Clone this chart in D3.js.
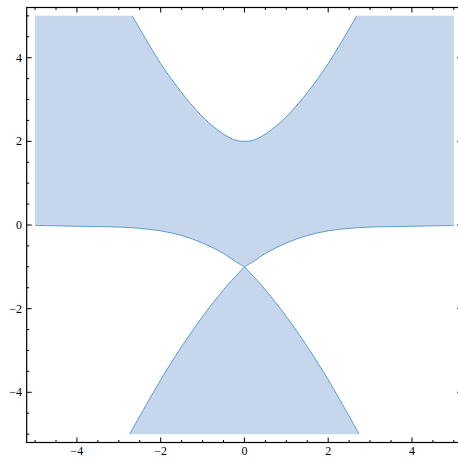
<!DOCTYPE html>
<html>
<head>
<meta charset="utf-8">
<script src="https://cdn.jsdelivr.net/npm/d3@7"></script>
<style>
  body { margin: 0; background: #fff; }
  svg { display: block; }
</style>
</head>
<body>
<div id="chart"></div>
<script>
// boundary curves (data coords)
const upperX = [-2.68, -2.0, -1.52, -1.05, -0.65, -0.25, 0, 0.25, 0.65, 1.05, 1.52, 2.0, 2.68];
const upperY = [5, 3.86, 3.19, 2.64, 2.28, 2.04, 2.0, 2.04, 2.28, 2.64, 3.19, 3.86, 5];

// left wing, from the left edge in to the crossing
const leftWingX = [-5, -4, -3, -2.5, -2, -1.5, -1, -0.5, -0.25, 0];
const leftWingY = [-0.01, -0.03, -0.05, -0.08, -0.14, -0.25, -0.43, -0.68, -0.85, -1.0];
// right wing, from the crossing out to the right edge
const rightWingX = [0, 0.25, 0.5, 1, 1.5, 2, 2.5, 3, 4, 5];
const rightWingY = [-1.0, -0.85, -0.68, -0.43, -0.25, -0.14, -0.08, -0.05, -0.03, -0.01];

// lower arms, from the crossing down to y = -5
const leftArmX = [0, -0.44, -1.06, -1.86, -2.74];
const leftArmY = [-1.0, -1.48, -2.27, -3.47, -5];
const rightArmX = [0, 0.44, 1.06, 1.86, 2.74];
const rightArmY = [-1.0, -1.48, -2.27, -3.47, -5];

const plotMin = -5, plotMax = 5;
const majorTicks = [-4, -2, 0, 2, 4];
const minorTicks = [-5, -4.5, -3.5, -3, -2.5, -1.5, -1, -0.5, 0.5, 1, 1.5, 2.5, 3, 3.5, 4.5, 5];

const width = 458;
const height = 457;

const xScale = d3.scaleLinear().domain([-5.2, 5.2]).range([26.7, 462.2]);
const yScale = d3.scaleLinear().domain([-5.2, 5.2]).range([442.5, 7.5]);

const zip = (xs, ys) => xs.map((x, i) => [x, ys[i]]);

let curve = d3.line()
    .x(d => xScale(d[0]))
    .y(d => yScale(d[1]))
    .curve(d3.curveCatmullRom.alpha(0.5));

let straight = d3.line()
    .x(d => xScale(d[0]))
    .y(d => yScale(d[1]));

// join several pieces into one outline
function outline(pieces) {
    let d = '';
    pieces.forEach((p, i) => {
        let s = p.smooth ? curve(p.pts) : straight(p.pts);
        d += i == 0 ? s : s.replace(/^M/, 'L');
    });
    return d + 'Z';
}

const upper = zip(upperX, upperY);
const leftWing = zip(leftWingX, leftWingY);
const rightWing = zip(rightWingX, rightWingY);
const leftArm = zip(leftArmX, leftArmY);
const rightArm = zip(rightArmX, rightArmY);

let svg = d3.select('#chart')
    .append('svg')
    .attr('width', width)
    .attr('height', height);

let fill = '#c6d6ec';
let edge = '#5b9ccc';

// upper region
svg.append('path')
    .attr('d', outline([
        {pts: [[plotMin, plotMax], upper[0]]},
        {pts: upper, smooth: true},
        {pts: [upper[upper.length - 1], [plotMax, plotMax], rightWing[rightWing.length - 1]]},
        {pts: rightWing.slice().reverse(), smooth: true},
        {pts: leftWing.slice().reverse(), smooth: true}
    ]))
    .attr('fill', fill)
    .attr('stroke', 'none');

// lower triangle
svg.append('path')
    .attr('d', outline([
        {pts: rightArm, smooth: true},
        {pts: [rightArm[rightArm.length - 1], leftArm[leftArm.length - 1]]},
        {pts: leftArm.slice().reverse(), smooth: true}
    ]))
    .attr('fill', fill)
    .attr('stroke', 'none');

// boundary lines
[upper, leftWing, rightWing, leftArm, rightArm].forEach(pts => {
    svg.append('path')
        .attr('d', curve(pts))
        .attr('fill', 'none')
        .attr('stroke', edge)
        .attr('stroke-width', 1);
});

// frame
let x0 = xScale.range()[0], x1 = xScale.range()[1];
let y0 = yScale.range()[1], y1 = yScale.range()[0];

svg.append('rect')
    .attr('x', x0)
    .attr('y', y0)
    .attr('width', x1 - x0)
    .attr('height', y1 - y0)
    .attr('fill', 'none')
    .attr('stroke', '#000')
    .attr('stroke-width', 1.2);

// frame ticks, pointing in, on all four sides
function ticks(values, len) {
    values.forEach(v => {
        let px = xScale(v), py = yScale(v);
        svg.append('line').attr('x1', px).attr('x2', px).attr('y1', y1).attr('y2', y1 - len);
        svg.append('line').attr('x1', px).attr('x2', px).attr('y1', y0).attr('y2', y0 + len);
        svg.append('line').attr('y1', py).attr('y2', py).attr('x1', x0).attr('x2', x0 + len);
        svg.append('line').attr('y1', py).attr('y2', py).attr('x1', x1).attr('x2', x1 - len);
    });
}
ticks(majorTicks, 5);
ticks(minorTicks, 2.5);
svg.selectAll('line').attr('stroke', '#000').attr('stroke-width', 1);

let fmt = v => v < 0 ? '\u2212' + Math.abs(v) : String(v);

svg.selectAll('.xlab')
    .data(majorTicks)
    .enter()
    .append('text')
    .attr('x', d => xScale(d))
    .attr('y', 455)
    .attr('text-anchor', 'middle')
    .attr('font-family', 'Liberation Serif, Times New Roman, serif')
    .attr('font-size', 12)
    .text(fmt);

svg.selectAll('.ylab')
    .data(majorTicks)
    .enter()
    .append('text')
    .attr('x', 22)
    .attr('y', d => yScale(d) + 4)
    .attr('text-anchor', 'end')
    .attr('font-family', 'Liberation Serif, Times New Roman, serif')
    .attr('font-size', 12)
    .text(fmt);
</script>
</body>
</html>
